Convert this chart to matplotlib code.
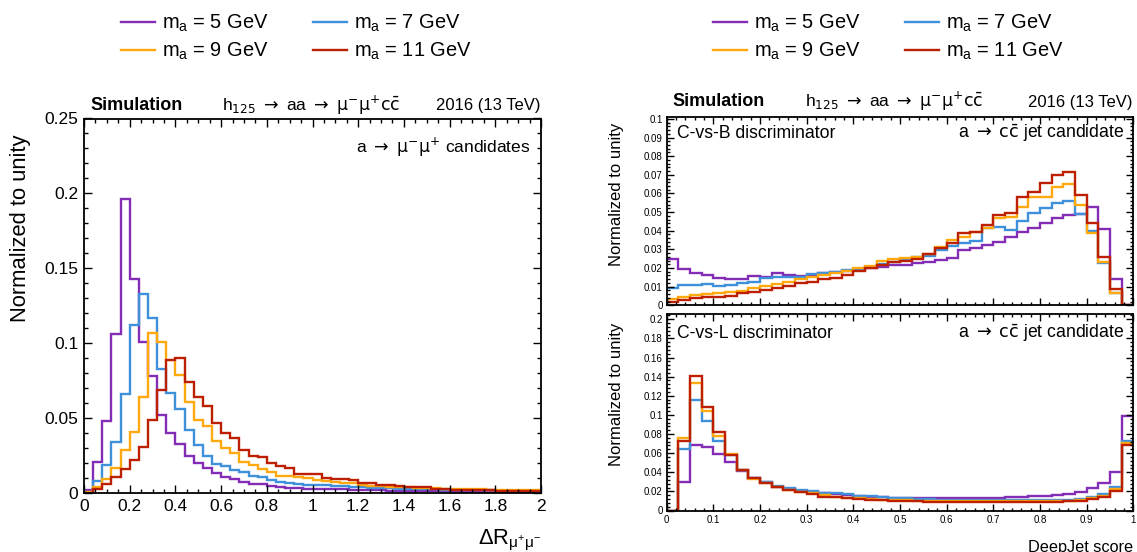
import numpy as np
import matplotlib
matplotlib.use("Agg")
import matplotlib.pyplot as plt
from matplotlib.ticker import MultipleLocator, FuncFormatter

plt.rcParams['font.family'] = ['Liberation Sans', 'DejaVu Sans']
plt.rcParams['mathtext.fontset'] = 'custom'
plt.rcParams['mathtext.rm'] = 'Liberation Sans'
plt.rcParams['mathtext.it'] = 'Liberation Sans:italic'
plt.rcParams['mathtext.bf'] = 'Liberation Sans:bold'

# signal mass points
masses = [5, 7, 9, 11]
colors = ["#832db6", "#3f90da", "#ffa90e", "#bd1f01"]

# dimuon delta R, 50 bins in [0, 2]
dr_m5 = [0.002, 0.021, 0.048, 0.106, 0.196, 0.143, 0.101, 0.078, 0.052, 0.040,
         0.033, 0.025, 0.020, 0.017, 0.0136, 0.011, 0.0093, 0.0076, 0.0064, 0.0060,
         0.0047, 0.0042, 0.0038, 0.0033, 0.0031, 0.0030, 0.0028, 0.0027, 0.0026, 0.0024,
         0.0022, 0.0020, 0.0019, 0.0018, 0.0017, 0.0016, 0.0015, 0.0014, 0.0014, 0.0013,
         0.0012, 0.0012, 0.0011, 0.0011, 0.0010, 0.0010, 0.0010, 0.0009, 0.0009, 0.0009]
dr_m7 = [0.001, 0.008, 0.019, 0.034, 0.066, 0.112, 0.133, 0.117, 0.083, 0.067,
         0.056, 0.042, 0.032, 0.025, 0.0193, 0.018, 0.0158, 0.0142, 0.0116, 0.011,
         0.0087, 0.0076, 0.0069, 0.0062, 0.0058, 0.0056, 0.0054, 0.0050, 0.0047, 0.0044,
         0.0041, 0.0038, 0.0035, 0.0033, 0.0031, 0.0029, 0.0028, 0.0027, 0.0026, 0.0025,
         0.0023, 0.0022, 0.0021, 0.0020, 0.0019, 0.0018, 0.0017, 0.0016, 0.0015, 0.0015]
dr_m9 = [0.001, 0.004, 0.0098, 0.017, 0.029, 0.041, 0.064, 0.107, 0.101, 0.089,
         0.079, 0.061, 0.049, 0.045, 0.035, 0.030, 0.027, 0.021, 0.0187, 0.016,
         0.0142, 0.0118, 0.0116, 0.0112, 0.0100, 0.0088, 0.0085, 0.0074, 0.0072, 0.0066,
         0.0058, 0.0050, 0.0047, 0.0044, 0.0041, 0.0040, 0.0038, 0.0036, 0.0034, 0.0032,
         0.0030, 0.0029, 0.0028, 0.0026, 0.0025, 0.0024, 0.0023, 0.0022, 0.0021, 0.0020]
dr_m11 = [0.0005, 0.003, 0.006, 0.011, 0.0164, 0.022, 0.031, 0.049, 0.069, 0.089,
          0.090, 0.074, 0.064, 0.058, 0.047, 0.040, 0.037, 0.029, 0.025, 0.024,
          0.020, 0.018, 0.017, 0.0131, 0.0128, 0.0128, 0.0104, 0.0098, 0.0096, 0.0087,
          0.0070, 0.0068, 0.0054, 0.0053, 0.0047, 0.0040, 0.0040, 0.0039, 0.0030, 0.0029,
          0.0023, 0.0022, 0.0022, 0.0023, 0.0021, 0.0018, 0.0018, 0.0018, 0.0016, 0.0017]

# DeepJet C-vs-B score, 40 bins in [0, 1]
cvb_m5 = [0.0247, 0.0193, 0.0175, 0.0160, 0.0148, 0.0140, 0.0140, 0.0157, 0.0154, 0.0172,
          0.0161, 0.0157, 0.0163, 0.0172, 0.0177, 0.0186, 0.0191, 0.0199, 0.0208, 0.0216,
          0.0216, 0.0225, 0.0234, 0.0243, 0.0256, 0.0297, 0.0306, 0.0324, 0.0342, 0.0368,
          0.0392, 0.0413, 0.0440, 0.0467, 0.0487, 0.0490, 0.0527, 0.0410, 0.0141, 0.0]
cvb_m7 = [0.0095, 0.0109, 0.0109, 0.0114, 0.0106, 0.0109, 0.0118, 0.0127, 0.0145, 0.0150,
          0.0150, 0.0154, 0.0168, 0.0172, 0.0180, 0.0190, 0.0193, 0.0205, 0.0220, 0.0235,
          0.0249, 0.0261, 0.0267, 0.0297, 0.0320, 0.0333, 0.0345, 0.0413, 0.0422, 0.0404,
          0.0453, 0.0494, 0.0520, 0.0547, 0.0560, 0.0488, 0.0399, 0.0225, 0.0065, 0.0]
cvb_m9 = [0.0032, 0.0047, 0.0055, 0.0061, 0.0064, 0.0070, 0.0079, 0.0091, 0.0106, 0.0114,
          0.0127, 0.0140, 0.0150, 0.0163, 0.0172, 0.0184, 0.0202, 0.0213, 0.0240, 0.0250,
          0.0255, 0.0261, 0.0274, 0.0315, 0.0350, 0.0368, 0.0395, 0.0413, 0.0467, 0.0476,
          0.0530, 0.0583, 0.0583, 0.0637, 0.0651, 0.0538, 0.0386, 0.0234, 0.0064, 0.0]
cvb_m11 = [0.0020, 0.0029, 0.0038, 0.0043, 0.0047, 0.0052, 0.0064, 0.0073, 0.0082, 0.0095,
           0.0106, 0.0118, 0.0127, 0.0141, 0.0148, 0.0163, 0.0186, 0.0199, 0.0216, 0.0234,
           0.0238, 0.0249, 0.0274, 0.0306, 0.0336, 0.0386, 0.0392, 0.0431, 0.0485, 0.0497,
           0.0583, 0.0610, 0.0655, 0.0699, 0.0714, 0.0592, 0.0440, 0.0261, 0.0086, 0.0]

# DeepJet C-vs-L score, 40 bins in [0, 1]
cvl_m5 = [0.0, 0.0294, 0.0680, 0.0663, 0.0587, 0.0508, 0.0411, 0.0335, 0.0294, 0.0249,
          0.0225, 0.0207, 0.0197, 0.0180, 0.0173, 0.0162, 0.0155, 0.0145, 0.0140, 0.0135,
          0.0132, 0.0130, 0.0130, 0.0128, 0.0128, 0.0128, 0.0130, 0.0132, 0.0135, 0.0138,
          0.0145, 0.0150, 0.0152, 0.0162, 0.0173, 0.0197, 0.0231, 0.0283, 0.0404, 0.0984]
cvl_m7 = [0.0, 0.0646, 0.1157, 0.0933, 0.0732, 0.0577, 0.0428, 0.0342, 0.0294, 0.0256,
          0.0231, 0.0214, 0.0204, 0.0187, 0.0180, 0.0169, 0.0155, 0.0150, 0.0140, 0.0135,
          0.0128, 0.0122, 0.0118, 0.0114, 0.0112, 0.0110, 0.0108, 0.0106, 0.0105, 0.0105,
          0.0105, 0.0106, 0.0105, 0.0108, 0.0112, 0.0117, 0.0138, 0.0169, 0.0249, 0.0722]
cvl_m9 = [0.0, 0.0760, 0.1330, 0.1043, 0.0784, 0.0587, 0.0420, 0.0328, 0.0283, 0.0249,
          0.0214, 0.0197, 0.0180, 0.0162, 0.0145, 0.0135, 0.0128, 0.0121, 0.0115, 0.0110,
          0.0106, 0.0103, 0.0100, 0.0098, 0.0097, 0.0096, 0.0095, 0.0095, 0.0095, 0.0095,
          0.0095, 0.0095, 0.0095, 0.0095, 0.0097, 0.0108, 0.0128, 0.0155, 0.0220, 0.0705]
cvl_m11 = [0.0, 0.0725, 0.1406, 0.1078, 0.0826, 0.0577, 0.0428, 0.0335, 0.0290, 0.0249,
           0.0214, 0.0190, 0.0169, 0.0145, 0.0138, 0.0128, 0.0117, 0.0110, 0.0105, 0.0100,
           0.0097, 0.0095, 0.0093, 0.0092, 0.0091, 0.0090, 0.0090, 0.0090, 0.0090, 0.0090,
           0.0090, 0.0090, 0.0091, 0.0092, 0.0095, 0.0103, 0.0118, 0.0145, 0.0205, 0.0687]

dr_hists = [dr_m5, dr_m7, dr_m9, dr_m11]
cvb_hists = [cvb_m5, cvb_m7, cvb_m9, cvb_m11]
cvl_hists = [cvl_m5, cvl_m7, cvl_m9, cvl_m11]
dr_edges = np.linspace(0, 2, 51)
score_edges = np.linspace(0, 1, 41)

W, H = 1137, 552
fig = plt.figure(figsize=(W / 100, H / 100), dpi=100)


def px_rect(x0, y0, x1, y1):
    return [x0 / W, 1 - y1 / H, (x1 - x0) / W, (y1 - y0) / H]


def fx(x):
    return x / W


def fy(y):
    return 1 - y / H


ax_dr = fig.add_axes(px_rect(84, 118.5, 541, 493.3))
ax_cb = fig.add_axes(px_rect(666.7, 116.7, 1133.3, 305.3))
ax_cl = fig.add_axes(px_rect(666.7, 314, 1133.3, 510.5))

fmt = FuncFormatter(lambda v, p: f"{round(v, 6):g}")


def root_style(ax, xmaj, xmin, ymaj, ymin, labelsize, majlen, minlen):
    ax.xaxis.set_major_locator(MultipleLocator(xmaj))
    ax.xaxis.set_minor_locator(MultipleLocator(xmin))
    ax.yaxis.set_major_locator(MultipleLocator(ymaj))
    ax.yaxis.set_minor_locator(MultipleLocator(ymin))
    ax.xaxis.set_major_formatter(fmt)
    ax.yaxis.set_major_formatter(fmt)
    ax.tick_params(which='both', direction='in', top=True, right=True,
                   width=1.0, labelsize=labelsize, pad=3)
    ax.tick_params(which='major', length=majlen)
    ax.tick_params(which='minor', length=minlen)
    for s in ax.spines.values():
        s.set_linewidth(1.3)


lines = []
for vals, c, m in zip(dr_hists, colors, masses):
    st = ax_dr.stairs(vals, dr_edges, baseline=None, color=c, lw=1.7,
                      label=rf"m$_{{\mathrm{{a}}}}$ = {m} GeV")
    lines.append(st)
for vals, c in zip(cvb_hists, colors):
    ax_cb.stairs(vals, score_edges, baseline=None, color=c, lw=1.7)
for vals, c in zip(cvl_hists, colors):
    ax_cl.stairs(vals, score_edges, baseline=None, color=c, lw=1.7)

ax_dr.set_xlim(0, 2)
ax_dr.set_ylim(0, 0.25)
root_style(ax_dr, 0.2, 0.05, 0.05, 0.01, 12.5, 5.5, 2.8)
ax_dr.tick_params(axis='both', pad=4)

ax_cb.set_xlim(0, 1)
ax_cb.set_ylim(0, 0.1012)
root_style(ax_cb, 0.1, 0.02, 0.01, 0.002, 7, 5, 2.5)
ax_cb.tick_params(axis='x', labelbottom=False)

ax_cl.set_xlim(0, 1)
ax_cl.set_ylim(0, 0.2055)
root_style(ax_cl, 0.1, 0.02, 0.02, 0.004, 7, 5, 2.5)

# axis titles
fig.text(fx(21), fy(134), "Normalized to unity", rotation=90, fontsize=15.8,
         ha='center', va='top')
fig.text(fx(541), fy(544), r"ΔR$_{\mathrm{\mu^{+}\mu^{-}}}$", fontsize=15.8,
         ha='right', va='baseline')
for y_top in (123, 323):
    fig.text(fx(616), fy(y_top), "Normalized to unity", rotation=90, fontsize=12,
             ha='center', va='top')
fig.text(fx(1133), fy(552), "DeepJet score", fontsize=11.7, ha='right', va='baseline')

# the arrows come out too small in Liberation, so decay strings use DejaVu math
arrow_math = dict(math_fontfamily='dejavusans')

# headers above each panel
process = r"h$_{125}\;\rightarrow\;$aa$\;\rightarrow\;\mathrm{\mu^{-}\mu^{+}c\bar{c}}$"
for x_left, x_mid, x_right, base in ((90, 311, 541, 110.5), (672.7, 894, 1132, 106.5)):
    fig.text(fx(x_left), fy(base), "Simulation", fontsize=13, fontweight='bold',
             ha='left', va='baseline')
    fig.text(fx(x_mid), fy(base), process, fontsize=12.5, ha='center', va='baseline',
             **arrow_math)
    fig.text(fx(x_right), fy(base), "2016 (13 TeV)", fontsize=12, ha='right',
             va='baseline')

# in-frame captions
fig.text(fx(531), fy(153), r"a$\;\rightarrow\;\mathrm{\mu^{-}\mu^{+}}$ candidates",
         fontsize=12.5, ha='right', va='baseline', **arrow_math)
fig.text(fx(677.3), fy(137.7), "C-vs-B discriminator", fontsize=12.7,
         ha='left', va='baseline')
fig.text(fx(677.3), fy(338.3), "C-vs-L discriminator", fontsize=12.7,
         ha='left', va='baseline')
jet_cap = r"a$\;\rightarrow\;\mathrm{c\bar{c}}$ jet candidate"
fig.text(fx(1124.3), fy(138), jet_cap, fontsize=12.7, ha='right', va='baseline',
         **arrow_math)
fig.text(fx(1124.3), fy(338.3), jet_cap, fontsize=12.7, ha='right', va='baseline',
         **arrow_math)

# legends: two rows, filled row-wise
order = [0, 2, 1, 3]
handles = [lines[i] for i in order]
labels = [lines[i].get_label() for i in order]
for x0 in (121, 713):
    fig.legend(handles, labels, ncol=2, loc='upper left',
               bbox_to_anchor=(fx(x0), fy(13)), frameon=False, fontsize=14.4,
               handlelength=1.7, handletextpad=0.36, columnspacing=2.2,
               labelspacing=0.33, borderpad=0, borderaxespad=0)

fig.savefig("out.png", dpi=100)
